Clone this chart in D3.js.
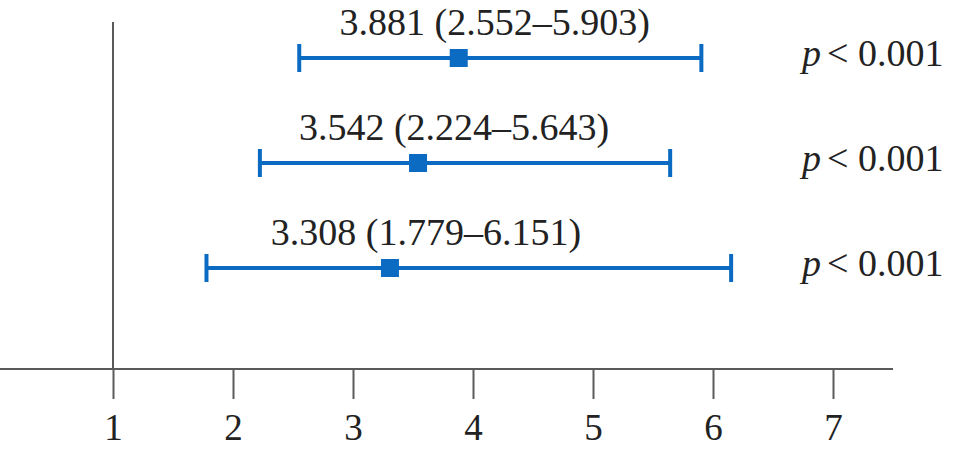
<!DOCTYPE html>
<html>
<head>
<meta charset="utf-8">
<script src="https://cdn.jsdelivr.net/npm/d3@7"></script>
<style>
  html, body { margin: 0; padding: 0; background: #fff; }
  svg { display: block; font-family: "Liberation Serif", "Times New Roman", serif; }
</style>
</head>
<body>
<div id="chart"></div>
<script>
// odds ratios with 95% CI, top to bottom
const estimates = [3.881, 3.542, 3.308];
const lower = [2.552, 2.224, 1.779];
const upper = [5.903, 5.643, 6.151];
const pLabels = ['< 0.001', '< 0.001', '< 0.001'];
const xTicks = [1, 2, 3, 4, 5, 6, 7];

const width = 957;
const height = 462;
const blue = '#0b6bc2';
const axisGrey = '#5a5a5a';

const rows = estimates.map((d, i) => ({ est: d, lo: lower[i], hi: upper[i], p: pLabels[i] }));

const x = d3.scaleLinear().domain([1, 7]).range([113, 833]);
const y = d3.scalePoint().domain(d3.range(rows.length)).range([58, 268]);
const axisY = 369;

const svg = d3.select('#chart').append('svg')
  .attr('width', width)
  .attr('height', height);

// reference line at 1
svg.append('line')
  .attr('x1', x(1)).attr('x2', x(1))
  .attr('y1', 22).attr('y2', axisY)
  .attr('stroke', axisGrey)
  .attr('stroke-width', 2);

// x axis
const axis = svg.append('g')
  .attr('transform', `translate(0, ${axisY})`)
  .call(d3.axisBottom(x)
    .tickValues(xTicks)
    .tickFormat(d3.format('d'))
    .tickSize(30)
    .tickSizeOuter(0)
    .tickPadding(0));

axis.select('.domain').remove();
axis.append('line')
  .attr('x1', 0).attr('x2', x(7.5))
  .attr('stroke', axisGrey)
  .attr('stroke-width', 2);
axis.selectAll('.tick line')
  .attr('stroke', axisGrey)
  .attr('stroke-width', 2);
axis.selectAll('.tick text')
  .attr('y', 71)
  .attr('dy', 0)
  .attr('fill', '#222')
  .style('font-size', '37px')
  .style('font-family', '"Liberation Serif", "Times New Roman", serif');

const g = svg.append('g');

const row = g.selectAll('g.row')
  .data(rows)
  .join('g')
  .attr('class', 'row')
  .attr('transform', (_, i) => `translate(0, ${y(i)})`);

row.append('line')
  .attr('x1', d => x(d.lo))
  .attr('x2', d => x(d.hi))
  .attr('stroke', blue)
  .attr('stroke-width', 4);

row.selectAll('line.cap')
  .data(d => [d.lo, d.hi])
  .join('line')
  .attr('class', 'cap')
  .attr('x1', d => x(d)).attr('x2', d => x(d))
  .attr('y1', -14).attr('y2', 14)
  .attr('stroke', blue)
  .attr('stroke-width', 4);

row.append('rect')
  .attr('x', d => x(d.est) - 9)
  .attr('y', -9)
  .attr('width', 18)
  .attr('height', 18)
  .attr('fill', blue);

// estimate label sits a little right of the point
row.append('text')
  .attr('x', d => x(d.est) + 36)
  .attr('y', -23)
  .attr('text-anchor', 'middle')
  .attr('fill', '#222')
  .style('font-size', '38px')
  .text(d => `${d.est.toFixed(3)} (${d.lo.toFixed(3)}–${d.hi.toFixed(3)})`);

const pText = row.append('text')
  .attr('x', 802)
  .attr('y', 8)
  .attr('fill', '#222')
  .style('font-size', '38px');

pText.append('tspan')
  .style('font-style', 'italic')
  .text('p');
pText.append('tspan')
  .attr('dx', 6)
  .text(d => d.p);
</script>
</body>
</html>
